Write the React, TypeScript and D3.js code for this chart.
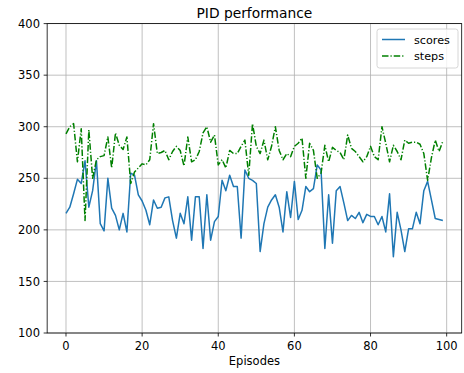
import React from "react";
import * as d3 from "d3";

const scores: number[] = [
  216, 222, 235, 249, 245, 267, 222, 238, 267, 206,
  199, 250, 221, 214, 200, 216, 198, 255, 253, 234,
  228, 219, 205, 229, 221, 222, 231, 232, 209, 192,
  216, 206, 232, 190, 232, 232, 182, 234, 190, 208,
  213, 248, 238, 253, 242, 242, 192, 258, 250, 248,
  245, 179, 206, 222, 229, 234, 222, 198, 237, 212,
  247, 210, 219, 242, 237, 240, 263, 258, 182, 234,
  187, 238, 242, 226, 209, 214, 211, 217, 207, 215,
  213, 213, 205, 213, 198, 235, 174, 217, 200, 179,
  201, 201, 217, 206, 238, 247, 229, 211, 210, 209,
];

const steps: number[] = [
  293, 300, 303, 266, 298, 209, 297, 250, 268, 271,
  272, 290, 260, 294, 282, 278, 290, 245, 256, 260,
  264, 263, 268, 303, 274, 275, 277, 268, 276, 281,
  277, 262, 290, 266, 268, 276, 294, 300, 285, 292,
  263, 268, 260, 277, 274, 274, 281, 287, 253, 303,
  281, 274, 287, 268, 281, 300, 277, 268, 274, 271,
  281, 284, 289, 250, 284, 277, 250, 255, 282, 266,
  280, 277, 275, 268, 292, 279, 276, 271, 266, 271,
  281, 271, 268, 300, 284, 266, 282, 276, 268, 287,
  284, 285, 285, 283, 274, 248, 270, 287, 276, 286,
];

const xTicks: number[] = [0, 20, 40, 60, 80, 100];
const yTicks: number[] = [100, 150, 200, 250, 300, 350, 400];
const seriesNames: string[] = ["scores", "steps"];
const titleText = "PID performance";
const xLabel = "Episodes";

const W = 464;
const H = 373;
const L = 47.15;
const R = 461.7;
const T = 23.6;
const B = 333;
const FONT = "DejaVu Sans, sans-serif";

export default function App() {
  const n = scores.length;
  const pad = (n - 1) * 0.05;
  const x = d3.scaleLinear().domain([-pad, n - 1 + pad]).range([L, R]);
  const y = d3.scaleLinear().domain([100, 400]).range([B, T]);
  const line = d3
    .line<number>()
    .x((_, i) => x(i))
    .y((d) => y(d));

  return (
    <svg
      width={W}
      height={H}
      style={{ position: "absolute", left: 0, top: 0, background: "#fff" }}
      fontFamily={FONT}
    >
      <rect x={0} y={0} width={W} height={H} fill="#fff" />
      <defs>
        <clipPath id="plotclip">
          <rect x={L} y={T} width={R - L} height={B - T} />
        </clipPath>
      </defs>
      {/* grid */}
      {xTicks.map((t) => (
        <line key={"gx" + t} x1={x(t)} x2={x(t)} y1={T} y2={B} stroke="#b0b0b0" strokeWidth={0.8} />
      ))}
      {yTicks.map((t) => (
        <line key={"gy" + t} x1={L} x2={R} y1={y(t)} y2={y(t)} stroke="#b0b0b0" strokeWidth={0.8} />
      ))}
      {/* series */}
      <g clipPath="url(#plotclip)">
        <path d={line(scores) || ""} fill="none" stroke="#1f77b4" strokeWidth={1.5} strokeLinejoin="round" />
        <path
          d={line(steps) || ""}
          fill="none"
          stroke="#008000"
          strokeWidth={1.5}
          strokeDasharray="6.5,2,1.2,2"
          strokeLinejoin="round"
        />
      </g>
      {/* spines */}
      <rect x={L} y={T} width={R - L} height={B - T} fill="none" stroke="#000" strokeWidth={0.8} />
      {/* x ticks */}
      {xTicks.map((t) => (
        <g key={"xt" + t}>
          <line x1={x(t)} x2={x(t)} y1={B} y2={B + 3.5} stroke="#000" strokeWidth={0.8} />
          <text x={x(t)} y={350} textAnchor="middle" fontSize={11.5} fill="#000">
            {t}
          </text>
        </g>
      ))}
      {/* y ticks */}
      {yTicks.map((t) => (
        <g key={"yt" + t}>
          <line x1={L - 3.5} x2={L} y1={y(t)} y2={y(t)} stroke="#000" strokeWidth={0.8} />
          <text x={40} y={y(t)} dy="0.36em" textAnchor="end" fontSize={11.5} fill="#000">
            {t}
          </text>
        </g>
      ))}
      {/* labels */}
      <text x={(L + R) / 2} y={18} textAnchor="middle" fontSize={13.8} fill="#000">
        {titleText}
      </text>
      <text x={(L + R) / 2} y={365} textAnchor="middle" fontSize={11.5} fill="#000">
        {xLabel}
      </text>
      {/* legend */}
      <g>
        <rect x={377} y={29} width={81} height={39} rx={2.5} fill="#fff" fillOpacity={0.8} stroke="#cccccc" strokeWidth={0.8} />
        <line x1={382} x2={405} y1={39.5} y2={39.5} stroke="#1f77b4" strokeWidth={1.5} />
        <text x={414} y={39.5} dy="0.36em" fontSize={11.2} fill="#000">
          {seriesNames[0]}
        </text>
        <line x1={382} x2={405} y1={56} y2={56} stroke="#008000" strokeWidth={1.5} strokeDasharray="6.5,2,1.2,2" />
        <text x={414} y={56} dy="0.36em" fontSize={11.2} fill="#000">
          {seriesNames[1]}
        </text>
      </g>
    </svg>
  );
}
